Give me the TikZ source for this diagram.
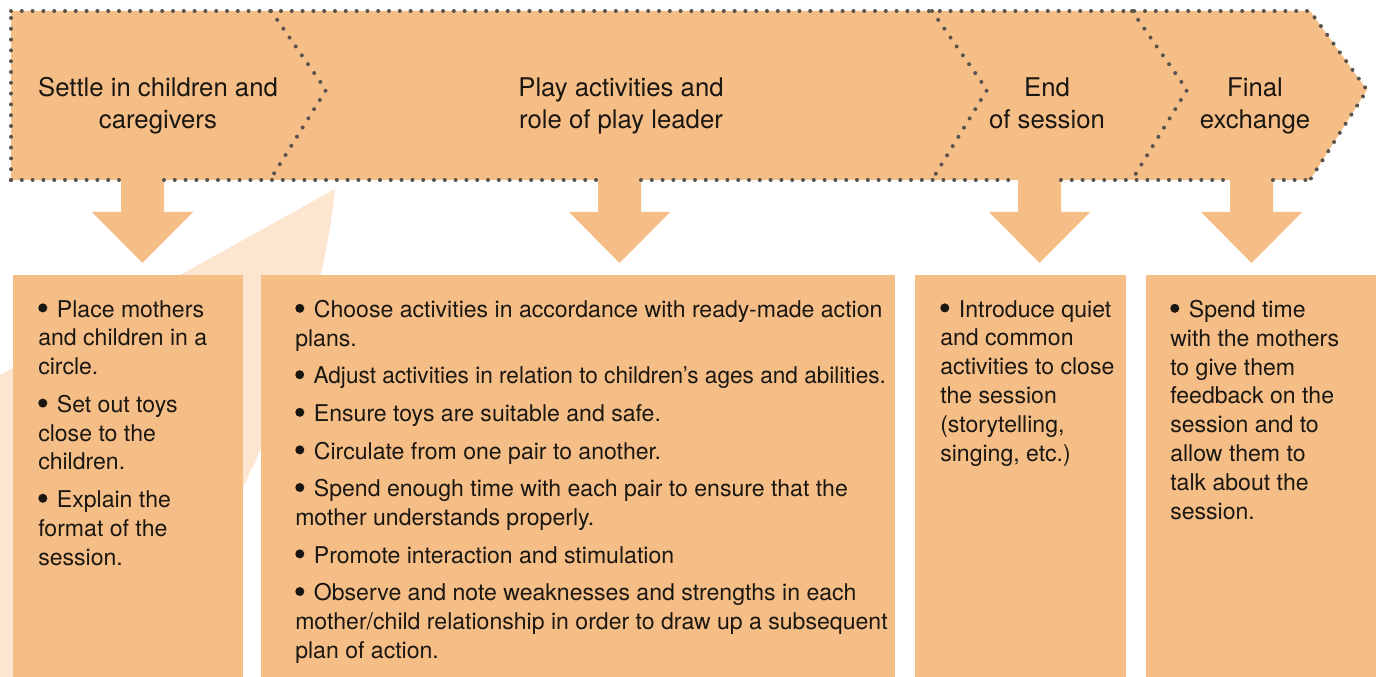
\documentclass[tikz,border=0pt]{standalone}
\usepackage{graphicx}
\usepackage{fontspec}
\setmainfont{TeX Gyre Heros}
\usetikzlibrary{calc}
\definecolor{boxfill}{HTML}{F6BE87}
\definecolor{pale}{HTML}{FDE6CF}
\definecolor{dotcol}{HTML}{58544B}
\definecolor{txt}{HTML}{1A1712}
\tikzset{
  dotline/.style={draw=dotcol, line width=3pt, line cap=round, dash pattern=on 0pt off 8.1pt},
  stagebox/.style={fill=boxfill, draw=none, inner sep=0pt, anchor=north west},
  title/.style={text=txt, align=center, inner sep=0pt, font=\fontsize{19.3}{24}\selectfont},
  itemtext/.style={text=txt, align=left, inner sep=0pt, anchor=north west, font=\fontsize{17.3}{21.6}\selectfont},
  blockarrow/.style={fill=boxfill, draw=none}
}
\newcommand{\gap}{\\[6.6pt]}
\newcommand{\bul}{\tikz[x=1pt,y=1pt,baseline=0pt]{\fill[txt] (3.4,6.9) circle (3.4);}\hspace{7.2pt}}
\begin{document}
\begin{tikzpicture}[x=0.75pt,y=-0.75pt]
\useasboundingbox (0,0) rectangle (1381,677);
% pale background wedge
\fill[pale] (335,189) .. controls (325,290) and (290,390) .. (243,487) -- (170,677) -- (0,677) -- (0,375) -- cycle;
% band
\coordinate (tl) at (11,11);
\coordinate (tr) at (1310,11);
\coordinate (tip) at (1367,90);
\coordinate (br) at (1310,180);
\coordinate (bl) at (11,180);
\fill[boxfill] (tl) -- (tr) -- (tip) -- (br) -- (bl) -- cycle;
% arrows (stems overlap band)
\foreach \cx/\n in {142.5/1, 619.5/2, 1039.5/3, 1251.5/4}{
  \coordinate (as\n) at (\cx,176);
  \coordinate (at\n) at (\cx,263);
  \fill[blockarrow] ($(as\n)+(-21.5,0)$) -- ($(as\n)+(21.5,0)$) -- (\cx+21.5,212) -- (\cx+50.5,212) -- (at\n) -- (\cx-50.5,212) -- (\cx-21.5,212) -- cycle;
}
% dotted outline
\draw[dotline] (tl) -- (tr) -- (tip) -- (br);
\draw[dotline] (bl) -- (tl);
\draw[dotline] (11,180) -- (121,180);
\draw[dotline] (164,180) -- (598,180);
\draw[dotline] (641,180) -- (1018,180);
\draw[dotline] (1061,180) -- (1230,180);
\draw[dotline] (1273,180) -- (br);
\draw[dotline] (271,11) -- (326,90) -- (270,180);
\draw[dotline] (932,11) -- (987,90) -- (932,180);
\draw[dotline] (1132,11) -- (1187,90) -- (1132,180);
% titles
\node[title] (t1) at (158,106) {Settle in children and\\caregivers};
\node[title] (t2) at (621,106) {Play activities and\\role of play leader};
\node[title] (t3) at (1047,103) {End\\of session};
\node[title] (t4) at (1255,106) {Final\\exchange};
% boxes
\node[stagebox, minimum width=230*0.75pt, minimum height=402*0.75pt] (b1) at (13,275) {};
\node[stagebox, minimum width=634*0.75pt, minimum height=402*0.75pt] (b2) at (261,275) {};
\node[stagebox, minimum width=211*0.75pt, minimum height=402*0.75pt] (b3) at (915,275) {};
\node[stagebox, minimum width=230*0.75pt, minimum height=402*0.75pt] (b4) at (1146,275) {};
% box texts
\node[itemtext] (x1) at (38,300) {\bul Place mothers\\and children in a\\circle.\gap
\bul Set out toys\\close to the\\children.\gap
\bul Explain the\\format of the\\session.};
\node[itemtext] (x2) at (295,300) {\bul Choose activities in accordance with ready-made action\\plans.\gap
\scalebox{0.98}[1]{\bul Adjust activities in relation to children’s ages and abilities.}\gap
\bul Ensure toys are suitable and safe.\gap
\bul Circulate from one pair to another.\gap
\bul Spend enough time with each pair to ensure that the\\mother understands properly.\gap
\bul Promote interaction and stimulation\gap
\bul Observe and note weaknesses and strengths in each\\mother/child relationship in order to draw up a subsequent\\plan of action.};
\node[itemtext] (x3) at (940,300) {\bul Introduce quiet\\and common\\activities to close\\the session\\(storytelling,\\singing, etc.)};
\node[itemtext] (x4) at (1170,300) {\bul Spend time\\with the mothers\\to give them\\feedback on the\\session and to\\allow them to\\talk about the\\session.};
\end{tikzpicture}
\end{document}
